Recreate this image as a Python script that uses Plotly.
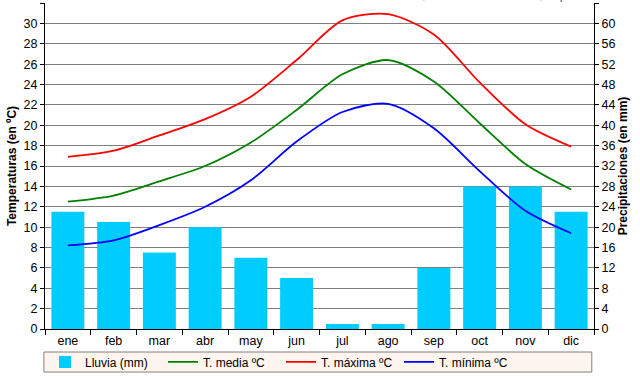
import plotly.graph_objects as go

meses = ["ene", "feb", "mar", "abr", "may", "jun", "jul", "ago", "sep", "oct", "nov", "dic"]
lluvia = [23, 21, 15, 20, 14, 10, 1, 1, 12, 28, 28, 23]
t_media = [12.5, 13.1, 14.5, 16.0, 18.3, 21.5, 25.0, 26.4, 24.3, 20.2, 16.2, 13.7]
t_maxima = [16.9, 17.5, 19.0, 20.6, 22.8, 26.4, 30.3, 30.9, 28.9, 24.2, 20.1, 17.9]
t_minima = [8.2, 8.7, 10.2, 12.0, 14.6, 18.4, 21.3, 22.1, 19.7, 15.5, 11.6, 9.4]
titulo = "Almería, Provincia de Almería, España"

FONT = "Liberation Sans, Arial, sans-serif"

fig = go.Figure()
fig.add_trace(go.Bar(x=meses, y=lluvia, name="Lluvia (mm)", marker=dict(color="#00CCFF", line=dict(width=0)),
                     yaxis="y"))
fig.add_trace(go.Scatter(x=meses, y=t_media, name="T. media ºC", mode="lines",
                         line=dict(color="#008000", width=1.8, shape="spline", smoothing=0.8), yaxis="y2"))
fig.add_trace(go.Scatter(x=meses, y=t_maxima, name="T. máxima ºC", mode="lines",
                         line=dict(color="#FF0000", width=1.8, shape="spline", smoothing=0.8), yaxis="y2"))
fig.add_trace(go.Scatter(x=meses, y=t_minima, name="T. mínima ºC", mode="lines",
                         line=dict(color="#0000FF", width=1.8, shape="spline", smoothing=0.8), yaxis="y2"))

fig.update_layout(
    width=640, height=376,
    margin=dict(l=45, r=46, t=3, b=47, autoexpand=False),
    paper_bgcolor="white", plot_bgcolor="white",
    font=dict(family=FONT, size=12, color="black"),
    bargap=0.28,
    showlegend=True,
    legend=dict(orientation="h", x=0.0, xanchor="left", y=-0.101, yanchor="middle",
                bgcolor="rgba(0,0,0,0)", borderwidth=0,
                entrywidth=73, entrywidthmode="pixels",
                font=dict(family=FONT, size=12), itemwidth=30, tracegroupgap=0),
    xaxis=dict(type="category", showline=True, linecolor="black", linewidth=1,
               ticks="outside", tickson="boundaries", ticklen=5, tickcolor="black",
               showgrid=False, tickfont=dict(size=12.5), automargin=False),
    yaxis=dict(side="right", range=[0, 64], dtick=4, showline=True, linecolor="black",
               ticks="outside", ticklen=4, tickcolor="black",
               showgrid=True, gridcolor="#808080", gridwidth=1, zeroline=False,
               title=dict(text="<b>Precipitaciones (en mm)</b>", font=dict(size=12), standoff=4),
               tickfont=dict(size=12.5), automargin=False),
    yaxis2=dict(side="left", overlaying="y", range=[0, 32], dtick=2, showline=True, linecolor="black",
                ticks="outside", ticklen=4, tickcolor="black", showgrid=False, zeroline=False,
                title=dict(text="<b>Temperaturas (en ºC)</b>", font=dict(size=12), standoff=4),
                tickfont=dict(size=12.5), automargin=False),
    shapes=[dict(type="rect", xref="paper", yref="paper", x0=-0.002, x1=0.996, y0=-0.0706, y1=-0.132,
                 fillcolor="#FDF5EE", line=dict(color="#808080", width=1), layer="below")],
    annotations=[dict(text=titulo, xref="paper", yref="paper", x=0.99, y=1, xanchor="right",
                      yanchor="bottom", yshift=-1, showarrow=False,
                      font=dict(family=FONT, size=12, color="#555555"))],
)

fig.write_html("out.html", config={"displayModeBar": False},
               post_script="document.body.style.margin='0px';document.body.style.overflow='hidden';")
